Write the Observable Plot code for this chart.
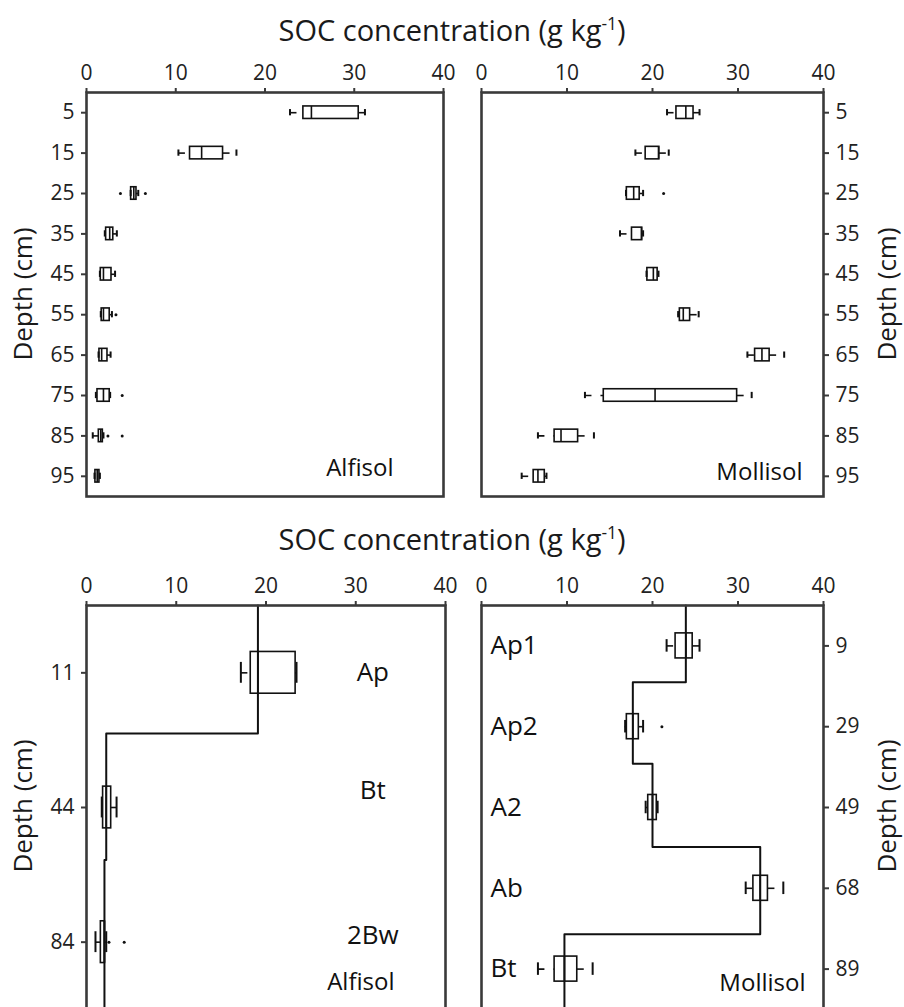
<!DOCTYPE html>
<html>
<head>
<meta charset="utf-8">
<script src="https://cdn.jsdelivr.net/npm/d3@7"></script>
<script src="https://cdn.jsdelivr.net/npm/@observablehq/plot@0.6"></script>
<style>
  html, body { margin: 0; padding: 0; background: #fff; overflow: hidden; }
  #figure { position: relative; width: 904px; height: 1007px; font-family: "Open Sans", sans-serif; color: #1a1a1a; }
  .panel { position: absolute; }
  .panel svg [aria-label$="tick label"] { font-size: 21px; font-family: "Open Sans", sans-serif; }
  .title { position: absolute; left: 0; width: 904px; text-align: center; font-size: 29px; line-height: 1; white-space: nowrap; z-index: 2; }
  .title .sup { font-size: 0.6em; position: relative; top: -0.62em; }
  .ylab { position: absolute; font-size: 26px; line-height: 1; white-space: nowrap; transform: translate(-50%, -50%) rotate(-90deg); z-index: 2; }
</style>
</head>
<body>
<div id="figure"></div>
<script>
// ---- 10-cm depth intervals (midpoint, cm) ----
const intervalDepths = [5, 15, 25, 35, 45, 55, 65, 75, 85, 95];
const concentrationTicks = [0, 10, 20, 30, 40];

// Alfisol SOC (g/kg) by depth interval: whisker ends, quartiles, median
const alfisolLow    = [22.8, 10.3, 4.95, 2.05, 1.5, 1.6, 1.35, 1.05, 0.7, 0.9];
const alfisolQ1     = [24.3, 11.6, 5.0, 2.2, 1.6, 1.7, 1.45, 1.23, 1.38, 1.0];
const alfisolMedian = [25.2, 12.9, 5.3, 2.6, 1.9, 1.9, 1.7, 1.9, 1.6, 1.2];
const alfisolQ3     = [30.5, 15.3, 5.6, 3.0, 2.8, 2.6, 2.35, 2.6, 1.83, 1.45];
const alfisolHigh   = [31.2, 16.8, 5.8, 3.4, 3.2, 2.85, 2.7, 2.65, 1.9, 1.5];
const alfisolOutlierDepth = [25, 25, 55, 75, 85, 85];
const alfisolOutlierValue = [3.8, 6.6, 3.3, 4.0, 2.4, 4.0];

// Mollisol SOC (g/kg) by depth interval
const mollisolLow    = [21.7, 18.0, 16.9, 16.2, 19.3, 23.0, 31.1, 12.1, 6.6, 4.7];
const mollisolQ1     = [22.8, 19.2, 17.0, 17.6, 19.4, 23.2, 32.0, 14.3, 8.55, 6.1];
const mollisolMedian = [23.9, 20.7, 17.8, 18.7, 20.1, 23.6, 32.8, 20.3, 9.3, 6.6];
const mollisolQ3     = [24.8, 20.8, 18.5, 18.8, 20.6, 24.4, 33.7, 29.9, 11.3, 7.4];
const mollisolHigh   = [25.5, 21.9, 18.9, 18.9, 20.7, 25.4, 35.4, 31.6, 13.15, 7.6];
const mollisolOutlierDepth = [25];
const mollisolOutlierValue = [21.3];

// ---- Genetic horizons ----
const alfisolHorizons     = ["Ap", "Bt", "2Bw"];
const alfisolHorizonDepth = [11, 44, 84];           // mid-depth (cm) shown on the axis
const alfisolHorizonBreaks = [0.95, 1.89];          // horizon boundaries, in horizon units
const alfisolHzLow    = [17.2, 1.7, 1.0];
const alfisolHzQ1     = [18.3, 1.85, 1.6];
const alfisolHzMedian = [19.1, 2.2, 2.0];
const alfisolHzQ3     = [23.3, 2.75, 2.05];
const alfisolHzHigh   = [23.4, 3.35, 2.2];
const alfisolHzOutlierHorizon = ["2Bw", "2Bw"];
const alfisolHzOutlierValue   = [2.5, 4.2];

const mollisolHorizons     = ["Ap1", "Ap2", "A2", "Ab", "Bt"];
const mollisolHorizonDepth = [9, 29, 49, 68, 89];
const mollisolHorizonBreaks = [0.95, 1.96, 2.99, 4.07];
const mollisolHzLow    = [21.65, 16.8, 19.2, 30.9, 6.6];
const mollisolHzQ1     = [22.7, 17.0, 19.5, 31.8, 8.55];
const mollisolHzMedian = [23.9, 17.7, 20.0, 32.6, 9.7];
const mollisolHzQ3     = [24.7, 18.4, 20.5, 33.5, 11.2];
const mollisolHzHigh   = [25.5, 18.9, 20.6, 35.3, 13.0];
const mollisolHzOutlierHorizon = ["Ap2"];
const mollisolHzOutlierValue   = [21.1];

// ---- helpers ----
const ink = "#111";
const frameInk = "#3a3a3a";
const tickInk = "#222";

function summaryRows(positions, low, q1, med, q3, high) {
  return positions.map((pos, i) => ({pos, lo: low[i], q1: q1[i], med: med[i], q3: q3[i], hi: high[i]}));
}

// staircase joining the horizon medians, switching at each horizon boundary
function stairs(medians, breaks) {
  const edges = [0, ...breaks, medians.length];
  return medians.flatMap((m, i) => [{x: m, y: edges[i]}, {x: m, y: edges[i + 1]}]);
}

function boxPanel(o) {
  const half = 0.155 * o.step, cap = half / 2;
  const marks = [
    Plot.axisX({anchor: "top", ticks: concentrationTicks, tickSize: 5, tickPadding: 8, strokeWidth: 2,
      stroke: frameInk, fill: tickInk, fontSize: 21, label: null}),
    Plot.axisY({anchor: o.yAnchor, ticks: o.yTicks, tickFormat: o.yTickFormat, tickSize: 5, tickPadding: 7, strokeWidth: 2,
      stroke: frameInk, fill: tickInk, fontSize: 21, label: null})
  ];
  if (o.stairs) marks.push(Plot.line(o.stairs, {x: "x", y: "y", stroke: ink, strokeWidth: 2}));
  marks.push(
    // dashed whiskers
    Plot.ruleY(o.rows, {y: "pos", x1: "lo", x2: "q1", stroke: ink, strokeWidth: 1.6, strokeDasharray: "7,9"}),
    Plot.ruleY(o.rows, {y: "pos", x1: "q3", x2: "hi", stroke: ink, strokeWidth: 1.6, strokeDasharray: "7,9"}),
    // whisker caps
    Plot.ruleX(o.rows, {x: "lo", y1: d => d.pos - cap, y2: d => d.pos + cap, stroke: ink, strokeWidth: 2}),
    Plot.ruleX(o.rows, {x: "hi", y1: d => d.pos - cap, y2: d => d.pos + cap, stroke: ink, strokeWidth: 2}),
    // boxes and medians
    Plot.rect(o.rows, {x1: "q1", x2: "q3", y1: d => d.pos - half, y2: d => d.pos + half, fill: "none", stroke: ink, strokeWidth: 1.6}),
    Plot.ruleX(o.rows, {x: "med", y1: d => d.pos - half, y2: d => d.pos + half, stroke: ink, strokeWidth: 1.6}),
    Plot.dot(o.outliers, {x: "value", y: "pos", r: 1.5, fill: ink, stroke: null}),
    Plot.frame({stroke: frameInk, strokeWidth: 2.6}),
    ...(o.extras || [])
  );
  return Plot.plot({
    width: o.width, height: o.height,
    marginLeft: o.marginLeft, marginRight: o.marginRight, marginTop: o.marginTop, marginBottom: o.marginBottom,
    style: {fontFamily: "Open Sans", fontSize: "21px", color: "#222", background: "transparent", overflow: "visible"},
    x: {domain: [0, 40]},
    y: {domain: o.yDomain, reverse: true},
    marks
  });
}

function soilLabel(name, dx, dy) {
  return Plot.text([name], {frameAnchor: "bottom-right", textAnchor: "end", lineAnchor: "bottom", dx, dy, fontSize: 24, fill: ink});
}

// ---- build the four panels ----
const fig = document.getElementById("figure");
function place(node, left, top) {
  const wrap = document.createElement("div");
  wrap.className = "panel";
  wrap.style.left = left + "px";
  wrap.style.top = top + "px";
  wrap.appendChild(node);
  fig.appendChild(wrap);
}
function html(className, inner, styles) {
  const el = document.createElement("div");
  el.className = className;
  el.innerHTML = inner;
  Object.assign(el.style, styles);
  fig.appendChild(el);
}

const alfIntRows = summaryRows(intervalDepths, alfisolLow, alfisolQ1, alfisolMedian, alfisolQ3, alfisolHigh);
const molIntRows = summaryRows(intervalDepths, mollisolLow, mollisolQ1, mollisolMedian, mollisolQ3, mollisolHigh);
const alfIntOut = alfisolOutlierDepth.map((pos, i) => ({pos, value: alfisolOutlierValue[i]}));
const molIntOut = mollisolOutlierDepth.map((pos, i) => ({pos, value: mollisolOutlierValue[i]}));

const alfHzPos = alfisolHorizons.map((_, i) => i + 0.5);
const molHzPos = mollisolHorizons.map((_, i) => i + 0.5);
const alfHzRows = summaryRows(alfHzPos, alfisolHzLow, alfisolHzQ1, alfisolHzMedian, alfisolHzQ3, alfisolHzHigh);
const molHzRows = summaryRows(molHzPos, mollisolHzLow, mollisolHzQ1, mollisolHzMedian, mollisolHzQ3, mollisolHzHigh);
const alfHzOut = alfisolHzOutlierHorizon.map((h, i) => ({pos: alfisolHorizons.indexOf(h) + 0.5, value: alfisolHzOutlierValue[i]}));
const molHzOut = mollisolHzOutlierHorizon.map((h, i) => ({pos: mollisolHorizons.indexOf(h) + 0.5, value: mollisolHzOutlierValue[i]}));

// top row: 10-cm depth intervals
place(boxPanel({
  rows: alfIntRows, outliers: alfIntOut, step: 10,
  yDomain: [0, 100], yTicks: intervalDepths, yAnchor: "left",
  width: 460, height: 506, marginLeft: 86, marginRight: 17, marginTop: 92, marginBottom: 10,
  extras: [soilLabel("Alfisol", -50, -21)]
}), 0, 0);

place(boxPanel({
  rows: molIntRows, outliers: molIntOut, step: 10,
  yDomain: [0, 100], yTicks: intervalDepths, yAnchor: "right",
  width: 452, height: 506, marginLeft: 29, marginRight: 81, marginTop: 92, marginBottom: 10,
  extras: [soilLabel("Mollisol", -21, -17)]
}), 452, 0);

// bottom row: genetic horizons
const alfLabelNudge = {Ap: 0, Bt: -17, "2Bw": -6};
place(boxPanel({
  rows: alfHzRows, outliers: alfHzOut, step: 1,
  stairs: stairs(alfisolHzMedian, alfisolHorizonBreaks),
  yDomain: [0, alfisolHorizons.length], yTicks: alfHzPos, yAnchor: "left",
  yTickFormat: d => alfisolHorizonDepth[Math.floor(d)],
  width: 460, height: 504, marginLeft: 86, marginRight: 15, marginTop: 90, marginBottom: 10,
  extras: [
    ...alfisolHorizons.map((h, i) => Plot.text([h], {x: () => 31.9, y: () => i + 0.5, dy: alfLabelNudge[h], textAnchor: "middle", fontSize: 26, fill: ink})),
    soilLabel("Alfisol", -51, -20)
  ]
}), 0, 515);

place(boxPanel({
  rows: molHzRows, outliers: molHzOut, step: 1,
  stairs: stairs(mollisolHzMedian, mollisolHorizonBreaks),
  yDomain: [0, mollisolHorizons.length], yTicks: molHzPos, yAnchor: "right",
  yTickFormat: d => mollisolHorizonDepth[Math.floor(d)],
  width: 452, height: 504, marginLeft: 29, marginRight: 81, marginTop: 90, marginBottom: 10,
  extras: [
    Plot.text(mollisolHorizons, {y: (d, i) => i + 0.5, frameAnchor: "left", textAnchor: "start", dx: 9, fontSize: 26, fill: ink}),
    soilLabel("Mollisol", -18, -19)
  ]
}), 452, 515);

// shared titles and depth labels
const titleHTML = 'SOC concentration (g kg<span class="sup">-1</span>)';
html("title", titleHTML, {top: "15px"});
html("title", titleHTML, {top: "524px"});
html("ylab", "Depth (cm)", {left: "22px", top: "294px"});
html("ylab", "Depth (cm)", {left: "886px", top: "294px"});
html("ylab", "Depth (cm)", {left: "22px", top: "806px"});
html("ylab", "Depth (cm)", {left: "886px", top: "806px"});
</script>
</body>
</html>
